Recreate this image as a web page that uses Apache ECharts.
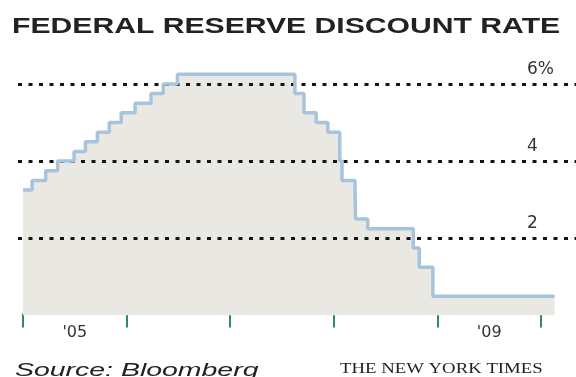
<!DOCTYPE html>
<html>
<head>
<meta charset="utf-8">
<script src="https://cdn.jsdelivr.net/npm/echarts@6/dist/echarts.min.js"></script>
<style>
html,body{margin:0;padding:0;background:#fff;}
#chart{width:576px;height:377px;}
</style>
</head>
<body>
<div id="chart"></div>
<script>
// Federal Reserve discount rate: date each rate took effect, and the rate (%)
const rateDates = ['2005-01-01','2005-02-02','2005-03-22','2005-05-03','2005-06-30','2005-08-09','2005-09-20','2005-11-01','2005-12-13','2006-01-31','2006-03-28','2006-05-10','2006-06-29','2007-08-17','2007-09-18','2007-10-31','2007-12-11','2008-01-22','2008-01-30','2008-03-16','2008-03-18','2008-04-30','2008-10-08','2008-10-29','2008-12-16','2010-02-18'];
const rateValues = [3.25,3.5,3.75,4.0,4.25,4.5,4.75,5.0,5.25,5.5,5.75,6.0,6.25,5.75,5.25,5.0,4.75,4.0,3.5,3.25,2.5,2.25,1.75,1.25,0.5,0.5];
// axis ticks / labels
const xTickYears = [2005,2006,2007,2008,2009,2010];
const xLabelYears = [2005,2009];
const xLabelTexts = ["'05","'09"];
const yTickValues = [2,4,6];
const yTickLabels = ['2','4','6%'];

function toYear(s){
  const d = Date.UTC(+s.slice(0,4), +s.slice(5,7)-1, +s.slice(8,10));
  const y = +s.slice(0,4);
  const a = Date.UTC(y,0,1), b = Date.UTC(y+1,0,1);
  return y + (d-a)/(b-a);
}
const seriesData = rateDates.map((d,i)=>[toYear(d), rateValues[i]]);

const chart = echarts.init(document.getElementById('chart'), null, {renderer:'canvas'});
const gridTop = 45.3, gridBottom = 61.5;
chart.setOption({
  animation:false,
  backgroundColor:'#ffffff',
  grid:[
    {left:23, right:0, top:gridTop, bottom:gridBottom},
    {left:18, right:0, top:gridTop, bottom:gridBottom}
  ],
  xAxis:[
    {type:'value', gridIndex:0, min:2005, max:2010.338, offset:-2,
     axisLine:{show:false},
     axisTick:{show:true, inside:false, length:14, lineStyle:{color:'#2c8c66', width:2}, customValues:xTickYears},
     axisLabel:{show:true, margin:11, customValues:xLabelYears.map(y=>y+0.5),
       formatter:function(v){const i=xLabelYears.indexOf(Math.round(v-0.5));return i>=0?xLabelTexts[i]:'';},
       fontFamily:'DejaVu Sans', fontSize:16, color:'#333'},
     splitLine:{show:false}},
    {type:'value', gridIndex:1, min:0, max:1, show:false}
  ],
  yAxis:[
    {type:'value', gridIndex:0, min:0, max:7, show:false},
    {type:'value', gridIndex:1, min:0, max:7, interval:2, position:'right', z:2,
     axisLine:{show:false}, axisTick:{show:false},
     axisLabel:{show:true, inside:true, align:'left', margin:49, verticalAlign:'bottom', lineHeight:29,
       formatter:function(v){const i=yTickValues.indexOf(v);return i>=0?yTickLabels[i]:'';},
       fontFamily:'DejaVu Sans', fontSize:17, color:'#333'},
     splitLine:{show:true, lineStyle:{color:['rgba(0,0,0,0)','#151515','#151515','#151515','rgba(0,0,0,0)'], width:3, type:[4,6.5]}}}
  ],
  series:[
    {type:'line', xAxisIndex:0, yAxisIndex:0, step:'end', data:seriesData, symbol:'none', z:1, silent:true,
     lineStyle:{width:0}, areaStyle:{color:'#e9e8e3', opacity:1}},
    {type:'line', xAxisIndex:0, yAxisIndex:0, step:'end', data:seriesData, symbol:'none', z:3, silent:true,
     lineStyle:{width:3.5, color:'#a8c4dd'}}
  ],
  graphic:[
    {type:'text', x:12, y:16, scaleX:1.37, style:{text:'FEDERAL RESERVE DISCOUNT RATE', font:'bold 22px "Liberation Sans"', fill:'#222', verticalAlign:'top'}},
    {type:'text', x:15, y:362, scaleX:1.58, style:{text:'Source: Bloomberg', font:'italic 18px "Liberation Sans"', fill:'#222', verticalAlign:'top'}},
    {type:'text', x:340, y:362, scaleX:1.34, style:{text:'THE NEW YORK TIMES', font:'14px "Liberation Serif"', fill:'#222', verticalAlign:'top'}}
  ]
});
</script>
</body>
</html>
